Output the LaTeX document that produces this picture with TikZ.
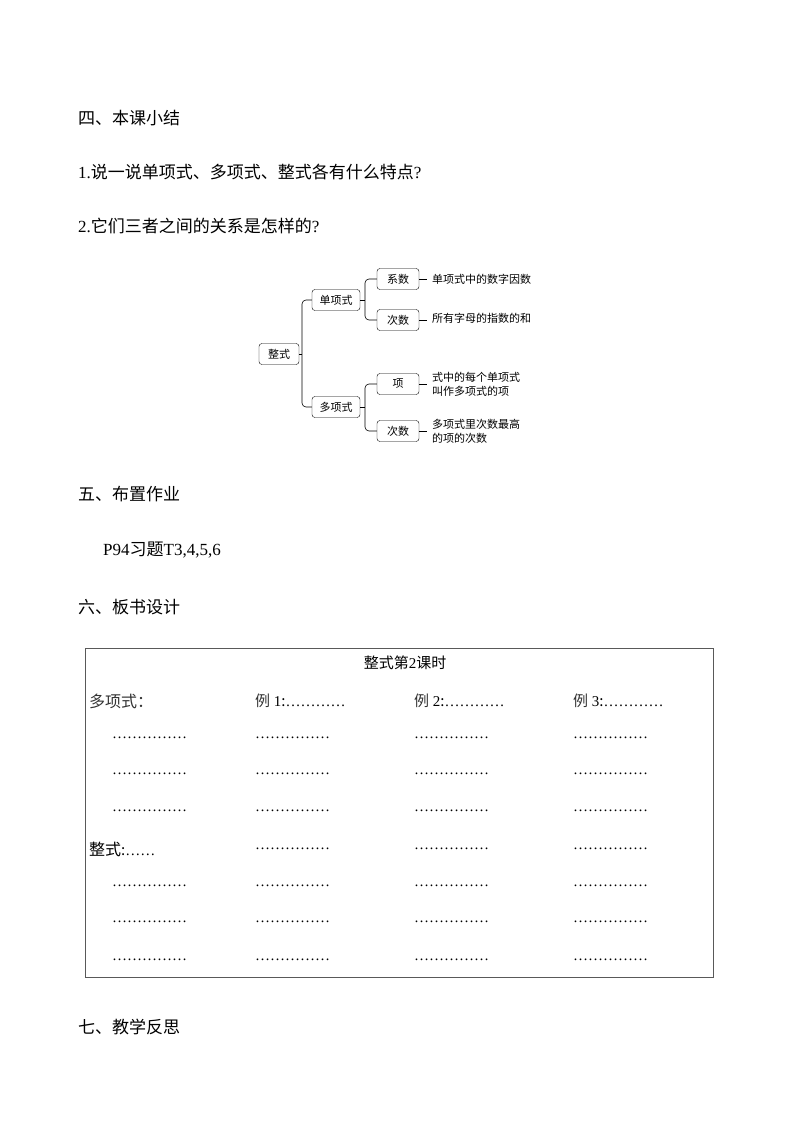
\documentclass[tikz,border=0pt]{standalone}
\usepackage{fontspec}
\setmainfont{Liberation Serif}
\newfontfamily\cjk{Noto Sans CJK SC}
\newcommand{\hd}{\fontsize{17}{20}\selectfont}
\begin{document}
\begin{tikzpicture}[x=1pt,y=-1pt,
  hd/.style={anchor=west,inner sep=0pt,font=\hd},
  bx/.style={draw,rounded corners=3pt,minimum width=42pt,minimum height=21pt,inner sep=1pt,font=\cjk\fontsize{11}{12}\selectfont},
  lbl/.style={anchor=west,inner sep=0pt,align=left,font=\cjk\fontsize{11}{14}\selectfont},
  ln/.style={draw,line width=0.6pt,rounded corners=4pt},
  cell/.style={anchor=west,inner sep=0pt,font=\fontsize{15}{16}\selectfont}]
\useasboundingbox (0,0) rectangle (800,1132);
\node[hd] (h4) at (78,118) {\cjk 四、本课小结};
\node[hd] (q1) at (78,172) {1.{\cjk 说一说单项式、多项式、整式各有什么特点}?};
\node[hd] (q2) at (78,226) {2.{\cjk 它们三者之间的关系是怎样的}?};
% tree
\node[bx,minimum width=40pt] (zs) at (279,354) {整式};
\node[bx,minimum width=48pt] (dx) at (336,300) {单项式};
\node[bx,minimum width=48pt] (duo) at (336,407) {多项式};
\node[bx] (xs) at (398,279) {系数};
\node[bx] (cs1) at (398,320) {次数};
\node[bx] (xiang) at (398,384) {项};
\node[bx] (cs2) at (398,431) {次数};
\coordinate (j0) at (302,354);
\coordinate (j1) at (365,300);
\coordinate (j2) at (365,407);
\draw[line width=0.6pt] (zs.east) -- (j0);
\draw[ln] (dx.west) -| (j0) |- (duo.west);
\draw[line width=0.6pt] (dx.east) -- (j1);
\draw[ln] (xs.west) -| (j1) |- (cs1.west);
\draw[line width=0.6pt] (duo.east) -- (j2);
\draw[ln] (xiang.west) -| (j2) |- (cs2.west);
\node[lbl] (t1) at (432,279) {单项式中的数字因数};
\node[lbl] (t2) at (432,318) {所有字母的指数的和};
\node[lbl] (t3) at (432,384) {式中的每个单项式\\叫作多项式的项};
\node[lbl] (t4) at (432,431) {多项式里次数最高\\的项的次数};
\foreach \n in {xs,cs1,xiang,cs2}{\draw[line width=0.6pt] (\n.east) -- ++(8,0);}
\node[hd] (h5) at (78,494) {\cjk 五、布置作业};
\node[hd] (hw) at (103,550) {P94{\cjk 习题}T3,4,5,6};
\node[hd] (h6) at (78,607) {\cjk 六、板书设计};
% board
\draw[line width=0.8pt,gray!70!black] (85,648) rectangle (713,977);
\node[inner sep=0pt,font=\fontsize{15}{16}\selectfont] (title) at (405,663) {{\cjk 整式第}2{\cjk 课时}};
\def\dts{…………}
\node[cell] (a0) at (89,701) {{\cjk\fontsize{16}{16}\selectfont\color{black!80} 多项式：}};
\node[cell] (b0) at (255,701) {{\cjk\color{black!80} 例} 1{\cjk :}\dts};
\node[cell] (c0) at (414,701) {{\cjk\color{black!80} 例} 2{\cjk :}\dts};
\node[cell] (d0) at (573,701) {{\cjk\color{black!80} 例} 3{\cjk :}\dts};
\foreach \y/\i in {738/1,774/2,811/3,886/5,922/6,960/7}{
  \node[cell] (a\i) at (112,\y) {\dts\ldots};}
\node[cell] (a4) at (89,849) {{\cjk\fontsize{16}{16}\selectfont 整式}{\cjk :}……};
\foreach \y/\i in {738/1,774/2,811/3,849/4,886/5,922/6,960/7}{
  \node[cell] (b\i) at (255,\y) {\dts\ldots};
  \node[cell] (c\i) at (414,\y) {\dts\ldots};
  \node[cell] (d\i) at (573,\y) {\dts\ldots};}
\node[hd] (h7) at (78,1027) {\cjk 七、教学反思};
\end{tikzpicture}
\end{document}
